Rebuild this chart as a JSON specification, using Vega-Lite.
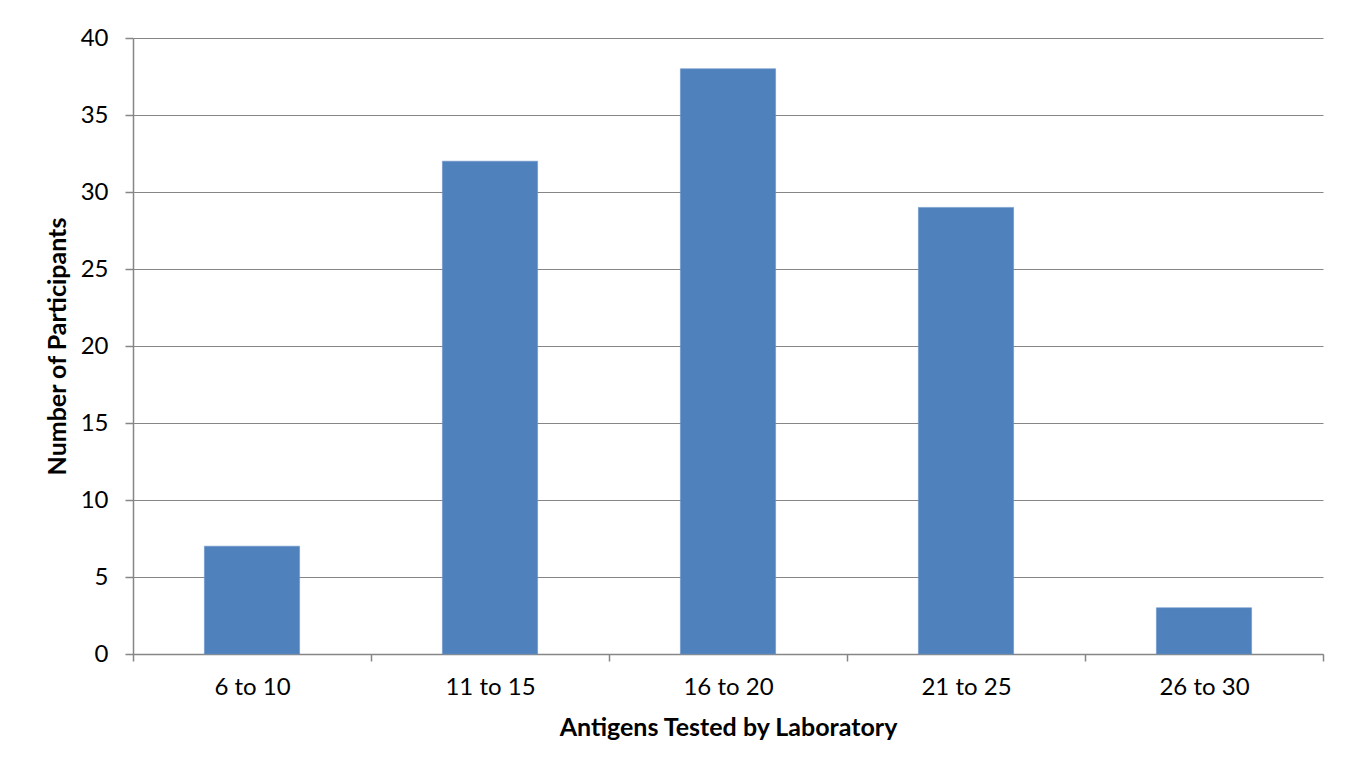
{
  "$schema": "https://vega.github.io/schema/vega-lite/v6.json",
  "width": 1190,
  "height": 616,
  "autosize": {"type": "none"},
  "padding": {"left": 133, "top": 38, "right": 33, "bottom": 115},
  "background": "white",
  "config": {
    "view": {"stroke": null},
    "font": "Lato",
    "axis": {
      "labelFont": "Lato",
      "titleFont": "Lato",
      "labelColor": "#000000",
      "titleColor": "#000000",
      "domainColor": "#868686",
      "tickColor": "#868686",
      "gridColor": "#868686",
      "labelFontSize": 24,
      "titleFontSize": 25,
      "titleFontWeight": "bold"
    }
  },
  "data": {
    "values": [
      {"range": "6 to 10", "count": 7},
      {"range": "11 to 15", "count": 32},
      {"range": "16 to 20", "count": 38},
      {"range": "21 to 25", "count": 29},
      {"range": "26 to 30", "count": 3}
    ]
  },
  "mark": {"type": "bar", "color": "#4F81BD", "stroke": "#6A93C8", "strokeWidth": 0.6, "width": {"band": 0.4}},
  "encoding": {
    "x": {
      "field": "range",
      "type": "nominal",
      "sort": null,
      "scale": {"paddingInner": 0, "paddingOuter": 0},
      "axis": {
        "title": "Antigens Tested by Laboratory",
        "labelAngle": 0,
        "tickBand": "extent",
        "tickSize": 7,
        "labelPadding": 14,
        "titlePadding": 16,
        "domainWidth": 1.5,
        "tickWidth": 1.5
      }
    },
    "y": {
      "field": "count",
      "type": "quantitative",
      "scale": {"domain": [0, 40], "nice": false},
      "axis": {
        "title": "Number of Participants",
        "values": [0, 5, 10, 15, 20, 25, 30, 35, 40],
        "tickSize": 8,
        "labelPadding": 17,
        "titlePadding": 10,
        "domainWidth": 1.5,
        "tickWidth": 1.5,
        "gridWidth": 1.2
      }
    }
  }
}
